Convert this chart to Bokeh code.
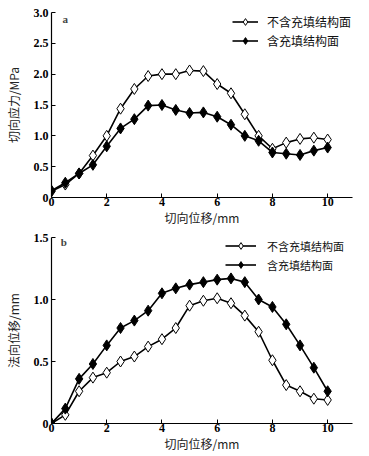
from bokeh.plotting import figure
from bokeh.layouts import column
from bokeh.models import FixedTicker, Legend, LegendItem, Label, Range1d, NumeralTickFormatter
from bokeh.embed import file_html
from bokeh.resources import INLINE

x = [0, 0.5, 1, 1.5, 2, 2.5, 3, 3.5, 4, 4.5, 5, 5.5, 6, 6.5, 7, 7.5, 8, 8.5, 9, 9.5, 10]

# (a) shear stress, MPa
a_open = [0.10, 0.21, 0.39, 0.68, 1.00, 1.44, 1.76, 1.97, 2.00, 2.00, 2.06, 2.05, 1.84, 1.69,
          1.35, 1.00, 0.79, 0.89, 0.95, 0.97, 0.94]
a_fill = [0.11, 0.24, 0.39, 0.53, 0.83, 1.12, 1.27, 1.49, 1.50, 1.42, 1.37, 1.38, 1.31, 1.18,
          1.00, 0.92, 0.73, 0.71, 0.69, 0.76, 0.81]

# (b) normal displacement, mm
b_open = [0.00, 0.07, 0.26, 0.37, 0.41, 0.50, 0.54, 0.62, 0.68, 0.77, 0.95, 0.99, 1.01, 0.97,
          0.87, 0.74, 0.51, 0.31, 0.26, 0.20, 0.19]
b_fill = [0.00, 0.12, 0.36, 0.48, 0.63, 0.77, 0.83, 0.91, 1.05, 1.09, 1.12, 1.14, 1.16, 1.17,
          1.14, 1.00, 0.94, 0.80, 0.63, 0.45, 0.26]

name_open = "不含充填结构面"
name_fill = "含充填结构面"
x_ticks = [0, 2, 4, 6, 8, 10]
a_ticks = [0, 0.5, 1.0, 1.5, 2.0, 2.5, 3.0]
b_ticks = [0, 0.5, 1.0, 1.5]

CJK = "Noto Sans CJK SC"
SERIF = "Liberation Serif"


def make(xs, y_open, y_fill, ymax, yticks, ylabel, tag, height, border_top, border_bottom,
         legend_font, legend_loc, glyph_w, standoff, tag_xy):
    p = figure(width=369, height=height, output_backend="svg", toolbar_location=None,
               x_range=Range1d(0, 10.9), y_range=Range1d(0, ymax),
               min_border_left=51, min_border_right=17, min_border_top=border_top,
               min_border_bottom=border_bottom, background_fill_color="white",
               border_fill_color="white", outline_line_color=None)
    p.grid.visible = False
    for ax in (p.xaxis[0], p.yaxis[0]):
        ax.major_tick_in = 4
        ax.major_tick_out = 0
        ax.minor_tick_in = 0
        ax.minor_tick_out = 0
        ax.axis_line_color = "black"
        ax.axis_line_width = 1.2
        ax.major_tick_line_color = "black"
        ax.major_label_text_font = SERIF
        ax.major_label_text_font_style = "bold"
        ax.major_label_text_font_size = "12px"
        ax.major_label_text_color = "black"
        ax.axis_label_text_font = CJK
        ax.axis_label_text_font_style = "normal"
        ax.axis_label_text_font_size = "12px"
        ax.axis_label_text_color = "#222222"
    p.xaxis.ticker = FixedTicker(ticks=x_ticks)
    p.yaxis.ticker = FixedTicker(ticks=yticks)
    p.yaxis.formatter = NumeralTickFormatter(format="0.0")
    p.yaxis.major_label_overrides = {0: "0"}
    p.xaxis.major_label_standoff = 0
    p.yaxis.major_label_standoff = 3
    p.xaxis.axis_label = "切向位移/mm"
    p.yaxis.axis_label = ylabel
    p.xaxis.axis_label_standoff = 0
    p.yaxis.axis_label_standoff = 9

    l1 = p.line(xs, y_open, line_color="black", line_width=1.6)
    m1 = p.scatter(xs, y_open, marker="diamond", size=11, fill_color="white",
                   line_color="black", line_width=1)
    l2 = p.line(xs, y_fill, line_color="black", line_width=1.6)
    m2 = p.scatter(xs, y_fill, marker="diamond", size=11, fill_color="black",
                   line_color="black", line_width=1)

    leg = Legend(items=[LegendItem(label=name_open, renderers=[l1, m1]),
                        LegendItem(label=name_fill, renderers=[l2, m2])],
                 location=legend_loc, border_line_color=None, background_fill_alpha=0,
                 margin=0, padding=0, spacing=2, label_height=17, glyph_height=17,
                 glyph_width=glyph_w, label_standoff=standoff,
                 label_text_font=CJK, label_text_font_size=legend_font,
                 label_text_color="#111111")
    p.add_layout(leg, "center")

    p.add_layout(Label(x=tag_xy[0], y=tag_xy[1], text=tag, text_font=SERIF,
                       text_font_style="bold", text_font_size="11px",
                       text_baseline="middle", text_align="center"))
    return p


pa = make(x, a_open, a_fill, 3.0, a_ticks, "切向应力/MPa", "a", 230, 12, 33, "12px",
          (181, 148), 26, 9, (0.5, 2.9))
pb = make(x, b_open, b_fill, 1.5, b_ticks, "法向位移/mm", "b", 226, 7, 33, "11px",
          (174, 150), 31, 11, (0.45, 1.46))

layout = column(pa, pb, spacing=0)
open("out.html", "w").write(file_html(layout, INLINE))
